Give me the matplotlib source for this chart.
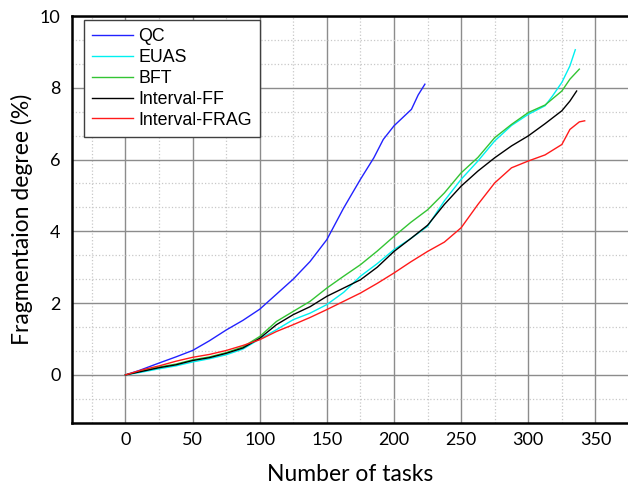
import matplotlib
matplotlib.use("Agg")
import matplotlib.pyplot as plt
from matplotlib.ticker import MultipleLocator

# ---- data ----
qc_x = [0, 10, 25, 37.5, 50, 62.5, 75, 87.5, 100, 112.5, 125, 137.5, 150, 162.5, 175, 185, 192, 200, 213, 218, 223]
qc_y = [0, 0.12, 0.33, 0.50, 0.68, 0.95, 1.25, 1.52, 1.83, 2.25, 2.67, 3.16, 3.77, 4.65, 5.45, 6.05, 6.56, 6.94, 7.40, 7.80, 8.10]

euas_x = [0, 12.5, 25, 37.5, 50, 62.5, 75, 87.5, 100, 112.5, 125, 137.5, 150, 162.5, 175, 187.5, 200, 212.5, 225, 237.5, 250, 262.5, 275, 287.5, 300, 312.5, 318, 325, 331, 335]
euas_y = [0, 0.08, 0.17, 0.25, 0.36, 0.45, 0.56, 0.72, 1.00, 1.26, 1.54, 1.72, 1.96, 2.30, 2.75, 3.10, 3.49, 3.80, 4.14, 4.85, 5.45, 5.96, 6.52, 6.95, 7.26, 7.50, 7.77, 8.15, 8.61, 9.06]

bft_x = [0, 12.5, 25, 37.5, 50, 62.5, 75, 87.5, 100, 112.5, 125, 137.5, 150, 162.5, 175, 187.5, 200, 212.5, 225, 237.5, 250, 262.5, 275, 287.5, 300, 312.5, 325, 331, 338]
bft_y = [0, 0.12, 0.22, 0.30, 0.42, 0.50, 0.62, 0.78, 1.07, 1.49, 1.77, 2.05, 2.42, 2.75, 3.07, 3.45, 3.86, 4.25, 4.60, 5.07, 5.63, 6.06, 6.61, 6.98, 7.31, 7.52, 7.91, 8.24, 8.52]

iff_x = [0, 12.5, 25, 37.5, 50, 62.5, 75, 87.5, 100, 112.5, 125, 137.5, 150, 162.5, 175, 187.5, 200, 212.5, 225, 237.5, 250, 262.5, 275, 287.5, 300, 312.5, 325, 331, 336]
iff_y = [0, 0.10, 0.20, 0.28, 0.40, 0.48, 0.60, 0.75, 1.02, 1.40, 1.68, 1.90, 2.19, 2.42, 2.65, 3.00, 3.44, 3.80, 4.17, 4.75, 5.26, 5.68, 6.05, 6.38, 6.66, 7.00, 7.36, 7.63, 7.91]

ifrag_x = [0, 12.5, 25, 37.5, 50, 62.5, 75, 87.5, 100, 112.5, 125, 137.5, 150, 162.5, 175, 187.5, 200, 212.5, 225, 237.5, 250, 262.5, 275, 287.5, 300, 312.5, 325, 331, 338, 342]
ifrag_y = [0, 0.14, 0.25, 0.38, 0.49, 0.57, 0.68, 0.82, 0.98, 1.21, 1.40, 1.60, 1.82, 2.05, 2.28, 2.55, 2.84, 3.15, 3.44, 3.70, 4.10, 4.75, 5.35, 5.77, 5.96, 6.13, 6.42, 6.84, 7.05, 7.08]

series = [
    ("QC", qc_x, qc_y, "#2222ff"),
    ("EUAS", euas_x, euas_y, "#00f0f0"),
    ("BFT", bft_x, bft_y, "#33c433"),
    ("Interval-FF", iff_x, iff_y, "#000000"),
    ("Interval-FRAG", ifrag_x, ifrag_y, "#ff1a1a"),
]

x_ticks = [0, 50, 100, 150, 200, 250, 300, 350]
y_ticks = [0, 2, 4, 6, 8, 10]

fig = plt.figure(figsize=(6.28, 4.91), dpi=100)
ax = fig.add_axes([0.1142, 0.139, 1.0016 - 0.1142, 0.9674 - 0.139])

for name, xs, ys, c in series:
    ax.plot(xs, ys, color=c, lw=1.0, label=name)

ax.set_xlim(-40, 375)
ax.set_ylim(-4/3, 10)
ax.set_xticks(x_ticks)
ax.set_yticks(y_ticks)
ax.xaxis.set_minor_locator(MultipleLocator(25))
ax.yaxis.set_minor_locator(MultipleLocator(2/3))
ax.grid(which="major", color="#8c8c8c", lw=1.0, ls="-")
ax.grid(which="minor", color="#c8c8c8", lw=0.9, ls=":")
ax.set_axisbelow(True)
ax.tick_params(which="both", length=0)
ax.tick_params(axis="x", pad=7)
ax.tick_params(axis="y", pad=8)
for lab in ax.get_xticklabels() + ax.get_yticklabels():
    lab.set_family("Lato")
    lab.set_fontsize(13)

for s in ["left", "top", "bottom"]:
    ax.spines[s].set_linewidth(1.8)
    ax.spines[s].set_color("black")
ax.spines["right"].set_visible(False)

ax.set_xlabel("Number of tasks", family="Lato", fontsize=16.5, labelpad=11)
ax.set_ylabel("Fragmentaion degree (%)", family="Lato", fontsize=16.5, labelpad=5)

leg = ax.legend(loc="upper left", bbox_to_anchor=(0.022, 0.99), borderaxespad=0,
                prop={"family": "Liberation Sans", "size": 12.8},
                fancybox=False, framealpha=1, edgecolor="#404040",
                handlelength=2.3, handletextpad=0.3, labelspacing=0.22,
                borderpad=0.45)
leg.get_frame().set_linewidth(1.0)

fig.savefig("out.png", dpi=100)
